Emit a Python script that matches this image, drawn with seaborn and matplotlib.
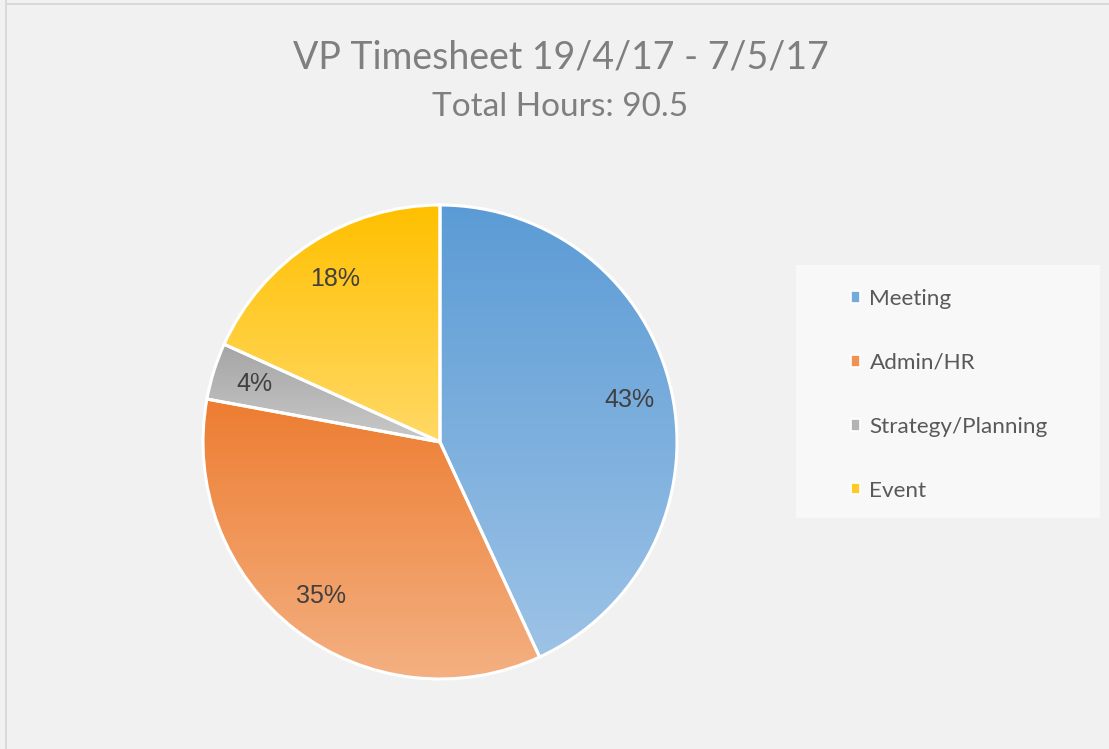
import numpy as np
import matplotlib
matplotlib.use("Agg")
import matplotlib.pyplot as plt
import seaborn as sns
from matplotlib.patches import Rectangle, Patch
from matplotlib.colors import to_rgb

# ---- data ----
categories = ["Meeting", "Admin/HR", "Strategy/Planning", "Event"]
hours = [39.0, 31.5, 3.5, 16.5]
title = "VP Timesheet 19/4/17 - 7/5/17"
subtitle = "Total Hours: 90.5"
top_colors = ["#5B9BD5", "#ED7D31", "#A5A5A5", "#FFC000"]
bottom_colors = ["#9DC3E6", "#F4B183", "#C9C9C9", "#FFD966"]

sns.set_theme(style="white")
plt.rcParams['font.family'] = ['Lato', 'DejaVu Sans']

W, H = 1109, 749
BG = "#F1F1F1"
fig = plt.figure(figsize=(W / 100, H / 100), dpi=100, facecolor=BG)

# chart border (left and top)
fig.patches.append(Rectangle((5 / W, 0), 2 / W, 1, transform=fig.transFigure,
                             facecolor="#D9D9D9", edgecolor="none", zorder=0))
fig.patches.append(Rectangle((5 / W, 1 - 5 / H), 1, 2 / H, transform=fig.transFigure,
                             facecolor="#D9D9D9", edgecolor="none", zorder=0))

# legend box
fig.patches.append(Rectangle((796 / W, (H - 518) / H), 304 / W, 253 / H,
                             transform=fig.transFigure, facecolor="#F8F8F8",
                             edgecolor="none", zorder=0))

cx, cy, r = 440, 442, 237
ax = fig.add_axes([(cx - r) / W, (H - cy - r) / H, 2 * r / W, 2 * r / H])
ax.set_facecolor("none")

wedges, texts, autotexts = ax.pie(
    hours, startangle=90, counterclock=False,
    autopct=lambda p: f"{p:.0f}%", pctdistance=0.82,
    wedgeprops=dict(edgecolor="white", linewidth=2.2, facecolor="none", zorder=2),
    textprops=dict(color="#404040", fontsize=18, family=["Liberation Sans", "DejaVu Sans"]),
)

for w, tc, bc in zip(wedges, top_colors, bottom_colors):
    verts = w.get_patch_transform().transform(w.get_path().vertices)
    x0, x1 = verts[:, 0].min(), verts[:, 0].max()
    y0, y1 = verts[:, 1].min(), verts[:, 1].max()
    t = np.linspace(0, 1, 256)[:, None]
    grad = (1 - t) * np.array(to_rgb(tc)) + t * np.array(to_rgb(bc))
    grad = grad[:, None, :]
    im = ax.imshow(grad, extent=(x0, x1, y0, y1), origin="upper", aspect="auto",
                   interpolation="bilinear", zorder=1)
    im.set_clip_path(w)

for t_ in autotexts:
    t_.set_zorder(5)

ax.set_xlim(-1, 1)
ax.set_ylim(-1, 1)
ax.set_aspect("equal")
ax.axis("off")

# titles
fig.text(561 / W, 1 - 57 / H, title, ha="center", va="center", fontsize=27, color="#7F7F7F")
fig.text(560 / W, 1 - 107 / H, subtitle, ha="center", va="center", fontsize=24, color="#7F7F7F")

# legend
mid_colors = [tuple(0.6 * np.array(to_rgb(a)) + 0.4 * np.array(to_rgb(b)))
              for a, b in zip(top_colors, bottom_colors)]
handles = [Patch(facecolor=c, edgecolor="white", linewidth=1.2) for c in mid_colors]
fig.legend(handles, categories, loc="upper left",
           bbox_to_anchor=(851 / W, 1 - 289 / H), frameon=False,
           fontsize=16.2, labelcolor="#595959", handlelength=0.42, handleheight=0.42,
           handletextpad=0.4, labelspacing=1.95, borderpad=0, borderaxespad=0)

fig.savefig("out.png", dpi=100, facecolor=BG)
